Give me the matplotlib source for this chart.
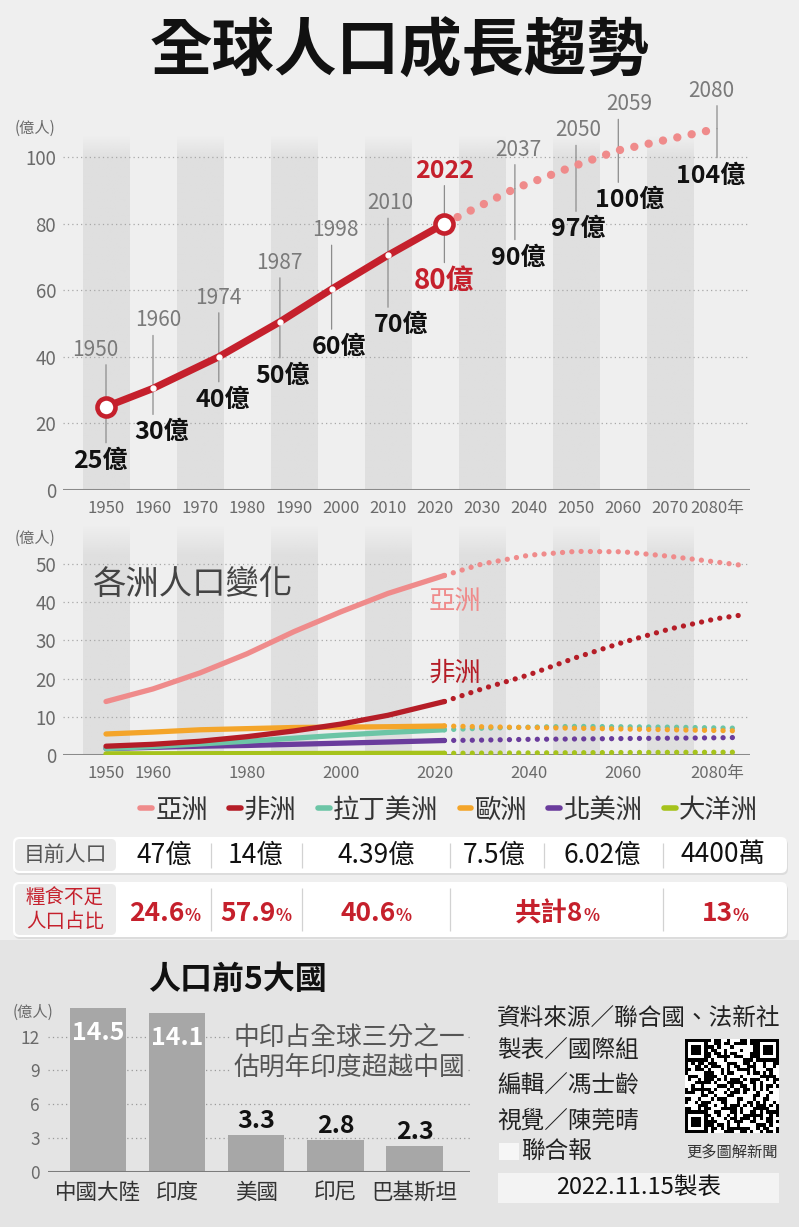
import matplotlib.pyplot as plt
import numpy as np
from matplotlib.colors import to_rgb
from matplotlib.lines import Line2D
from matplotlib.patches import FancyBboxPatch, Rectangle

plt.rcParams["font.family"] = ["Noto Sans CJK TC", "DejaVu Sans"]

W, H = 799, 1227
BG_TOP = "#efefef"
BG_BOTTOM = "#e4e4e4"
BAND = "#dfdfdf"
RED = "#c5202c"
PINK = "#ef8b8b"
TICK = "#6a6a6a"

# world population (億人)
world_years = [1950, 1960, 1974, 1987, 1998, 2010, 2022]
world_pop = [25, 30.5, 40, 50.5, 60.3, 70.5, 80]
world_labels = ["25億", "30億", "40億", "50億", "60億", "70億", "80億"]
proj_years = [2022, 2037, 2050, 2059, 2080]
proj_pop = [80, 90.5, 97.5, 102, 108.5]
proj_labels = ["80億", "90億", "97億", "100億", "104億"]
world_ticks = list(range(1950, 2081, 10))
world_yticks = [0, 20, 40, 60, 80, 100]

# continents (億人)
cont_names = ["亞洲", "非洲", "拉丁美洲", "歐洲", "北美洲", "大洋洲"]
cont_colors = ["#ef8b8b", "#b51d27", "#6cc5a6", "#f4a52a", "#6a3c9c", "#a6c31c"]
hist_years = [1950, 1960, 1970, 1980, 1990, 2000, 2010, 2022]
asia_hist = [14, 17.3, 21.5, 26.5, 32.3, 37.5, 42.3, 47]
africa_hist = [2.3, 2.8, 3.6, 4.8, 6.3, 8.1, 10.4, 14]
latam_hist = [1.7, 2.2, 2.9, 3.6, 4.4, 5.2, 5.9, 6.6]
europe_hist = [5.5, 6.0, 6.6, 6.9, 7.2, 7.3, 7.4, 7.6]
namer_hist = [1.7, 2.0, 2.3, 2.5, 2.8, 3.1, 3.4, 3.8]
oceania_hist = [0.3, 0.32, 0.34, 0.36, 0.38, 0.4, 0.42, 0.44]
fut_years = [2022, 2030, 2040, 2050, 2060, 2070, 2080, 2085]
asia_fut = [47, 50, 52.3, 53.3, 53.2, 52, 50.5, 49.7]
africa_fut = [14, 17.3, 21, 25.5, 29.5, 33, 35.7, 36.6]
latam_fut = [6.6, 7.0, 7.3, 7.5, 7.4, 7.3, 7.1, 7.0]
europe_fut = [7.6, 7.4, 7.2, 7.0, 6.8, 6.6, 6.4, 6.3]
namer_fut = [3.8, 3.9, 4.1, 4.2, 4.3, 4.4, 4.5, 4.6]
oceania_fut = [0.44, 0.5, 0.55, 0.6, 0.65, 0.7, 0.72, 0.74]
cont_ticks = [1950, 1960, 1980, 2000, 2020, 2040, 2060, 2080]
cont_yticks = [0, 10, 20, 30, 40, 50]

# table
table_pop = ["47億", "14億", "4.39億", "7.5億", "6.02億", "4400萬"]
hunger_pct = ["24.6", "57.9", "40.6", "共計8", "13"]

# top 5 countries (億人)
top5_names = ["中國大陸", "印度", "美國", "印尼", "巴基斯坦"]
top5_pop = [14.5, 14.1, 3.3, 2.8, 2.3]
top5_yticks = [0, 3, 6, 9, 12]

credits = ["資料來源／聯合國、法新社", "製表／國際組", "編輯／馮士齡", "視覺／陳莞晴"]


fig = plt.figure(figsize=(W / 100, H / 100), dpi=100, facecolor=BG_TOP)


def px_axes(x0, y0, x1, y1, z=2):
    ax = fig.add_axes([x0 / W, 1 - y1 / H, (x1 - x0) / W, (y1 - y0) / H], zorder=z)
    ax.set_facecolor("none")
    for s in ax.spines.values():
        s.set_visible(False)
    return ax


def overlay(z):
    ax = fig.add_axes([0, 0, 1, 1], zorder=z)
    ax.set_xlim(0, W)
    ax.set_ylim(H, 0)
    ax.axis("off")
    return ax


bg = overlay(0)
bg.add_patch(Rectangle((0, 940), W, H - 940, color=BG_BOTTOM, lw=0))
fg = overlay(5)


def draw_bands(ax, top, fade):
    n = 200
    ys = np.linspace(0, top, n)
    img = np.zeros((n, 1, 4))
    img[..., :3] = to_rgb(BAND)
    img[:, 0, 3] = np.clip((top - ys) / fade, 0, 1)
    for d in range(1950, 2081, 20):
        ax.imshow(img, extent=(d - 5, d + 5, 0, top), origin="lower",
                  aspect="auto", zorder=0, interpolation="bilinear")


def style_axis(ax, xticks, xlabels, yticks, ylim):
    x_lo = 1950 - 43 / 4.7
    x_hi = 1950 + 644 / 4.7
    for y in yticks[1:]:
        ax.axhline(y, color="#a8a8a8", lw=0.9, ls=(0, (1, 2.5)), zorder=0.5)
    ax.axhline(0, color="#8a8a8a", lw=2.2, zorder=1)
    ax.set_xticks(xticks, labels=xlabels)
    ax.set_yticks(yticks)
    ax.tick_params(axis="x", length=0, pad=7, labelsize=12, labelcolor=TICK)
    ax.tick_params(axis="y", length=0, pad=5, labelsize=13.5, labelcolor=TICK)
    ax.set_xlim(x_lo, x_hi)
    ax.set_ylim(0, ylim)


# ---------------- top chart: world population ----------------
ax1 = px_axes(63, 120, 750, 490)
draw_bands(ax1, 106.6, 7)
style_axis(ax1, world_ticks, [str(t) for t in world_ticks[:-1]] + ["2080年"],
           world_yticks, 370 / 3.33)

ax1.plot(proj_years, proj_pop, color=PINK, lw=6, ls=(0, (0.01, 1.75)),
         dash_capstyle="round", zorder=2)
ax1.plot(world_years, world_pop, color=RED, lw=5.2, solid_capstyle="round", zorder=3)
ax1.plot(world_years[1:-1], world_pop[1:-1], "o", ms=3.5, color="white", zorder=4)
ax1.plot([world_years[0], world_years[-1]], [world_pop[0], world_pop[-1]], "o",
         ms=13, mfc="white", mec=RED, mew=3.3, zorder=5)

ms_years = world_years + proj_years[1:]
ms_pop = world_pop + proj_pop[1:]
ms_labels = world_labels + proj_labels[1:]
year_off = [(-11, -57), (5, -68), (0, -59), (-1, -59), (4, -59), (2, -52),
            (0, -53), (3, -39), (2, -35), (11, -46), (-6, -38)]
val_off = [(-6, 54), (9, 44), (4, 43), (3, 54), (7, 58), (13, 70),
           (0, 57), (3, 69), (2, 64), (11, 50), (-6, 47)]
PT = 0.72
for yr, v, lab, (ydx, ydy), (vdx, vdy) in zip(ms_years, ms_pop, ms_labels, year_off, val_off):
    now = yr == 2022
    for length in (-ydy - 15, -(vdy - 18)):
        ax1.annotate("", xy=(yr, v), xytext=(0, length * PT), textcoords="offset points",
                     arrowprops=dict(arrowstyle="-", color="#8c8c8c", lw=0.9,
                                     shrinkA=0, shrinkB=0),
                     annotation_clip=False, zorder=1.5)
    ax1.annotate(str(yr), xy=(yr, v), xytext=(ydx * PT, -ydy * PT), textcoords="offset points",
                 ha="center", va="center", annotation_clip=False,
                 fontsize=18 if now else 15, fontweight="bold" if now else "normal",
                 color=RED if now else "#7a7a7a", zorder=6)
    ax1.annotate(lab, xy=(yr, v), xytext=(vdx * PT, -vdy * PT), textcoords="offset points",
                 ha="center", va="center", annotation_clip=False,
                 fontsize=20 if now else 18, fontweight="bold",
                 color=RED if now else "#111111", zorder=6)

fg.text(35, 128, "(億人)", ha="center", va="center", fontsize=11, color=TICK)

# ---------------- second chart: continents ----------------
ax2 = px_axes(63, 525, 750, 755)
draw_bands(ax2, 230 / 3.82, 8)
style_axis(ax2, cont_ticks, [str(t) for t in cont_ticks[:-1]] + ["2080年"],
           cont_yticks, 230 / 3.82)

hist_series = [asia_hist, africa_hist, latam_hist, europe_hist, namer_hist, oceania_hist]
fut_series = [asia_fut, africa_fut, latam_fut, europe_fut, namer_fut, oceania_fut]
draw_order = [5, 4, 2, 3, 1, 0]
for i in draw_order:
    ax2.plot(hist_years, hist_series[i], color=cont_colors[i], lw=3.8,
             solid_capstyle="round", zorder=3 + 0.1 * draw_order.index(i))
    ax2.plot(fut_years, fut_series[i], color=cont_colors[i], lw=3.8,
             ls=(0, (0.01, 1.75)), dash_capstyle="round", zorder=2)

fg.text(35, 538, "(億人)", ha="center", va="center", fontsize=11, color=TICK)
fg.text(192, 584, "各洲人口變化", ha="center", va="center", fontsize=24, color="#444444")
fg.text(455, 601, "亞洲", ha="center", va="center", fontsize=19, color=cont_colors[0])
fg.text(455, 673, "非洲", ha="center", va="center", fontsize=19, color=cont_colors[1])

handles = [Line2D([], [], color=c, lw=4, solid_capstyle="round") for c in cont_colors]
fig.legend(handles, cont_names, loc="center", bbox_to_anchor=(449 / W, 1 - 810 / H),
           ncol=6, frameon=False, fontsize=19, handlelength=0.45, handletextpad=0.12,
           columnspacing=0.8, labelcolor="#333333")

# ---------------- table ----------------
for (y0, h) in [(837, 36), (882, 55)]:
    fg.add_patch(FancyBboxPatch((14, y0 + 2), 774, h, boxstyle="round,pad=0,rounding_size=6",
                                fc="#dcdcdc", ec="none"))
    fg.add_patch(FancyBboxPatch((13, y0), 774, h, boxstyle="round,pad=0,rounding_size=6",
                                fc="white", ec="none"))
    fg.add_patch(FancyBboxPatch((15, y0 + 2), 101, h - 4, boxstyle="round,pad=0,rounding_size=5",
                                fc="#ebebeb", ec="none"))

fg.vlines([211, 302, 450, 544, 663], 843, 868, color="#d2d2d2", lw=0.9)
fg.vlines([211, 302, 450, 663], 888, 931, color="#d2d2d2", lw=0.9)
fg.text(65, 855, "目前人口", ha="center", va="center", fontsize=15, color="#555555")
fg.text(65, 910, "糧食不足\n人口占比", ha="center", va="center", fontsize=14,
        color=RED, linespacing=1.1)

pop_x = [164, 256, 376, 494, 602, 723]
for x, s in zip(pop_x, table_pop):
    fg.text(x, 855, s, ha="center", va="center", fontsize=19, color="#111111")

renderer = fig.canvas.get_renderer()
pct_x = [165, 256, 376, 557, 725]
for x, s in zip(pct_x, hunger_pct):
    t1 = fg.text(0, 921, s, ha="left", va="baseline", fontsize=19, fontweight="bold", color=RED)
    t2 = fg.text(0, 921, "%", ha="left", va="baseline", fontsize=12, fontweight="bold", color=RED)
    w1 = t1.get_window_extent(renderer).width
    w2 = t2.get_window_extent(renderer).width
    x0 = x - (w1 + w2) / 2
    t1.set_x(x0)
    t2.set_x(x0 + w1)

# ---------------- bottom: top 5 countries ----------------
ax3 = px_axes(48, 1000, 470, 1172)
xpos = np.arange(len(top5_names))
for y in top5_yticks[1:]:
    ax3.axhline(y, color="#9a9a9a", lw=0.9, ls=(0, (1, 2.5)), zorder=0)
ax3.bar(xpos, top5_pop, width=0.71, color="#a7a7a7", zorder=2)
ax3.axhline(0, color="#7c7c7c", lw=2.2, zorder=3)
for x, v in zip(xpos, top5_pop):
    if v > 10:
        ax3.annotate(f"{v}", xy=(x, v), xytext=(0, -25 * PT), textcoords="offset points",
                     ha="center", va="center", fontsize=18, fontweight="bold", color="white",
                     zorder=4)
    else:
        ax3.annotate(f"{v}", xy=(x, v), xytext=(0, 14 * PT), textcoords="offset points",
                     ha="center", va="center", fontsize=18, fontweight="bold", color="#111111",
                     zorder=4)
ax3.set_xticks(xpos, labels=top5_names)
ax3.set_yticks(top5_yticks)
ax3.tick_params(axis="x", length=0, pad=7, labelsize=15.5, labelcolor="#333333")
ax3.tick_params(axis="y", length=0, pad=6, labelsize=12.5, labelcolor=TICK)
ax3.set_xlim(-0.63, 4.70)
ax3.set_ylim(0, 172 / 11.28)

fg.text(238, 980, "人口前5大國", ha="center", va="center", fontsize=23, fontweight="bold",
        color="#111111")
fg.text(33, 1012, "(億人)", ha="center", va="center", fontsize=11, color=TICK)
fg.text(349, 1053, "中印占全球三分之一\n估明年印度超越中國", ha="center", va="center",
        fontsize=18.5, color="#555555", linespacing=1.2,
        bbox=dict(fc=BG_BOTTOM, ec="none", pad=1))

# credits
for y, s in zip([1018, 1051, 1086, 1121], credits):
    fg.text(497, y, s, ha="left", va="center", fontsize=17, color="#222222")
fg.add_patch(Rectangle((499, 1143), 20, 17, fc="#f6f6f6", ec="none"))
fg.text(521, 1152, "聯合報", ha="left", va="center", fontsize=17, color="#222222")

# QR code (decorative pattern)
bits = np.unpackbits(np.frombuffer("udn.com 聯合新聞網 數據圖解 全球人口成長趨勢 2022.11.15 人口前5大國".encode("utf-8") * 3,
                                   dtype=np.uint8))[: 29 * 29].reshape(29, 29).astype(float)
for (r, c) in [(0, 0), (0, 22), (22, 0)]:
    bits[r:r + 7, c:c + 7] = 1
    bits[r + 1:r + 6, c + 1:c + 6] = 0
    bits[r + 2:r + 5, c + 2:c + 5] = 1
fg.imshow(1 - bits, cmap="gray", vmin=0, vmax=1, extent=(685, 779, 1133, 1039),
          interpolation="nearest", aspect="auto", zorder=3)
fg.set_xlim(0, W)
fg.set_ylim(H, 0)
fg.text(732, 1152, "更多圖解新聞", ha="center", va="center", fontsize=11, color="#333333")

fg.add_patch(Rectangle((498, 1173), 281, 30, fc="#f3f3f3", ec="none"))
fg.text(639, 1188, "2022.11.15製表", ha="center", va="center", fontsize=17, color="#111111")

# title
fg.text(400, 52, "全球人口成長趨勢", ha="center", va="center", fontsize=45,
        fontweight="bold", color="#111111")

fig.savefig("out.png", dpi=100, facecolor=BG_TOP)
